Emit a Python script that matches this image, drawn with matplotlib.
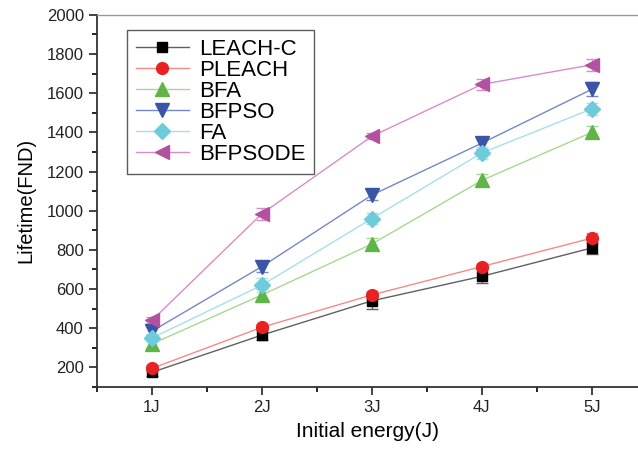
import numpy as np
import matplotlib.pyplot as plt
from matplotlib.ticker import MultipleLocator
from matplotlib.lines import Line2D

plt.rcParams['font.family'] = ['Liberation Sans', 'DejaVu Sans']

energy = [1, 2, 3, 4, 5]
tick_labels = ['1J', '2J', '3J', '4J', '5J']

names = ['LEACH-C', 'PLEACH', 'BFA', 'BFPSO', 'FA', 'BFPSODE']
leach_c = [175, 365, 540, 665, 810]
pleach = [195, 405, 570, 715, 860]
bfa = [320, 570, 830, 1155, 1400]
bfpso = [385, 715, 1080, 1345, 1620]
fa = [350, 620, 960, 1295, 1520]
bfpsode = [440, 985, 1380, 1645, 1745]

err_leach_c = [20, 25, 40, 35, 30]
err_pleach = [15, 15, 20, 15, 25]
err_bfa = [25, 30, 30, 30, 30]
err_bfpso = [20, 30, 25, 30, 35]
err_fa = [20, 35, 30, 30, 30]
err_bfpsode = [15, 30, 15, 30, 30]

series = [leach_c, pleach, bfa, bfpso, fa, bfpsode]
errors = [err_leach_c, err_pleach, err_bfa, err_bfpso, err_fa, err_bfpsode]
markers = ['s', 'o', '^', 'v', 'D', '<']
marker_colors = ['#000000', '#e82222', '#5fb548', '#3a54a6', '#6dcbdc', '#b2519f']
line_colors = ['#606060', '#f28a8a', '#a6d890', '#7487c6', '#a5e0ea', '#d88ccb']
sizes = [7.5, 8.5, 9.5, 9.5, 8.5, 9.5]

fig = plt.figure(figsize=(6.38, 4.5), dpi=100)
ax = fig.add_axes([0.152, 0.14, 0.848, 0.827])

handles = []
for i in range(len(names)):
    ax.errorbar(energy, series[i], yerr=errors[i], color=line_colors[i], lw=1.0,
                marker=markers[i], markersize=sizes[i], markerfacecolor=marker_colors[i],
                markeredgecolor=marker_colors[i], ecolor=line_colors[i], elinewidth=1.0,
                capsize=4, capthick=1.0)
    handles.append(Line2D([], [], color=line_colors[i], lw=1.0, marker=markers[i],
                          markersize=sizes[i], markerfacecolor=marker_colors[i],
                          markeredgecolor=marker_colors[i], label=names[i]))

ax.set_xlim(0.5, 5.42)
ax.set_ylim(100, 2000)
ax.set_xticks(energy)
ax.set_xticklabels(tick_labels)
ax.xaxis.set_minor_locator(MultipleLocator(0.5))
ax.set_yticks(np.arange(200, 2001, 200))
ax.yaxis.set_minor_locator(MultipleLocator(100))
ax.tick_params(which='major', direction='out', length=6, width=1.2, labelsize=12, colors='#222222')
ax.tick_params(which='minor', direction='out', length=3.5, width=1.2)

ax.spines['right'].set_visible(False)
ax.spines['top'].set_color('#999999')
ax.spines['top'].set_linewidth(1.0)
for side in ['left', 'bottom']:
    ax.spines[side].set_linewidth(1.3)
    ax.spines[side].set_color('#333333')

ax.set_xlabel('Initial energy(J)', fontsize=15, labelpad=5)
ax.set_ylabel('Lifetime(FND)', fontsize=14.5, labelpad=8)

leg = ax.legend(handles=handles, loc='upper left', bbox_to_anchor=(0.055, 0.96), fontsize=16,
                frameon=True, fancybox=False, edgecolor='#333333',
                labelspacing=0.0, handlelength=2.4, handletextpad=0.45,
                borderpad=0.4, borderaxespad=0.0)
leg.get_frame().set_linewidth(1.0)

fig.savefig('out.png', dpi=100)
